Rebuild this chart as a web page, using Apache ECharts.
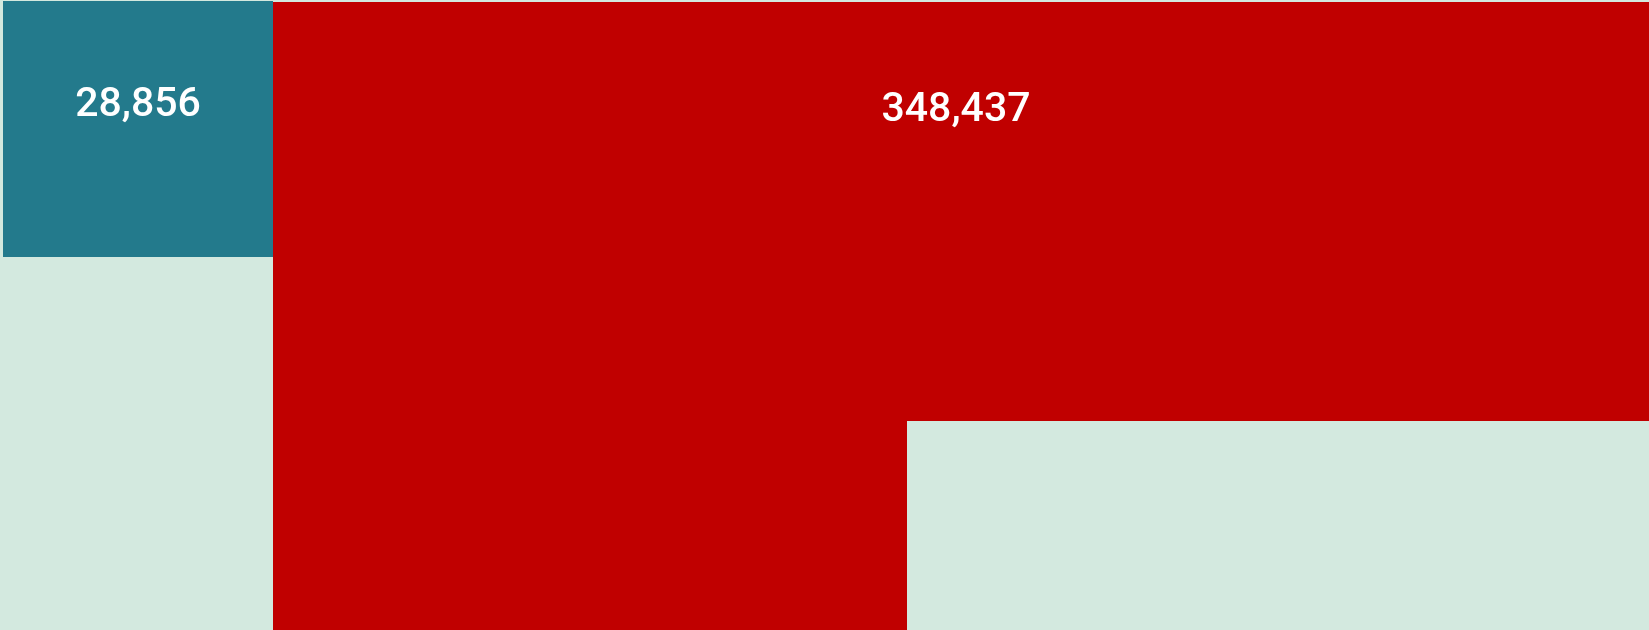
<!DOCTYPE html>
<html>
  <head>
    <meta charset="utf-8" />
    <title>Blocks</title>
    <script src="https://cdn.jsdelivr.net/npm/echarts@6/dist/echarts.min.js"></script>
    <style>
      body { margin: 0; background: #d3e9df; }
      #chart { width: 1649px; height: 630px; }
    </style>
  </head>
  <body>
    <div id="chart"></div>
    <script>
      // data
      const itemNames = ['Group A', 'Group B'];
      const itemValues = [28856, 348437];

      // styles / layout (axis units = page pixels on the hidden axes)
      const itemColors = ['#237a8c', '#c00000'];
      const blocks = [
        { item: 0, x: [3, 273], y: [1, 257], label: [0, 105] },
        { item: 1, x: [273, 1649], y: [2, 421], label: [-5, 109] },
        { item: 1, x: [273, 907], y: [421, 630], label: null }
      ];

      const chart = echarts.init(document.getElementById('chart'));

      const seriesData = blocks.map(b => ({
        name: itemNames[b.item],
        value: [b.x[0], b.x[1], b.y[0], b.y[1], itemValues[b.item]],
        labelPos: b.label,
        itemColor: itemColors[b.item]
      }));

      chart.setOption({
        backgroundColor: '#d3e9df',
        animation: false,
        grid: { left: 0, right: 0, top: 0, bottom: 0 },
        xAxis: { type: 'value', min: 0, max: 1649, show: false },
        yAxis: { type: 'value', min: 0, max: 630, inverse: true, show: false },
        series: [{
          type: 'custom',
          data: seriesData,
          encode: { x: [0, 1], y: [2, 3] },
          renderItem: function (params, api) {
            const d = seriesData[params.dataIndex];
            const p0 = api.coord([api.value(0), api.value(2)]);
            const p1 = api.coord([api.value(1), api.value(3)]);
            const children = [{
              type: 'rect',
              shape: { x: p0[0], y: p0[1], width: p1[0] - p0[0], height: p1[1] - p0[1] },
              style: { fill: d.itemColor }
            }];
            if (d.labelPos) {
              const anchor = api.coord([
                (api.value(0) + api.value(1)) / 2 + d.labelPos[0],
                api.value(2) + d.labelPos[1]
              ]);
              children.push({
                type: 'text',
                x: anchor[0],
                y: anchor[1],
                style: {
                  text: api.value(4).toLocaleString('en-US'),
                  fill: '#ffffff',
                  font: '500 41px Roboto',
                  align: 'center',
                  verticalAlign: 'middle'
                }
              });
            }
            return { type: 'group', children: children };
          }
        }]
      });
    </script>
  </body>
</html>
